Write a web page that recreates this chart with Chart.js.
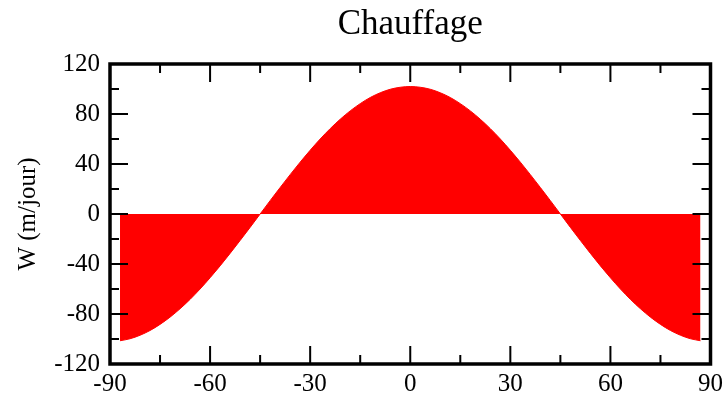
<!DOCTYPE html>
<html>
<head>
<meta charset="utf-8">
<script src="https://cdn.jsdelivr.net/npm/chart.js@4/dist/chart.umd.min.js"></script>
<style>
  html, body { margin: 0; padding: 0; background: #fff; }
  #wrap { width: 728px; height: 396px; }
</style>
</head>
<body>
<div id="wrap"><canvas id="chauffageChart"></canvas></div>
<script>
// latitude (degres) et valeurs
const latitudes = [-87, -84, -81, -78, -75, -72, -69, -66, -63, -60, -57, -54, -51, -48, -45,
                   -42, -39, -36, -33, -30, -27, -24, -21, -18, -15, -12, -9, -6, -3, 0,
                   3, 6, 9, 12, 15, 18, 21, 24, 27, 30, 33, 36, 39, 42, 45,
                   48, 51, 54, 57, 60, 63, 66, 69, 72, 75, 78, 81, 84, 87];
const chauffage = [-101.4, -99.8, -97.0, -93.2, -88.3, -82.5, -75.8, -68.3, -60.0, -51.0, -41.5, -31.5, -21.2, -10.7, 0,
                   10.7, 21.2, 31.5, 41.5, 51.0, 60.0, 68.3, 75.8, 82.5, 88.3, 93.2, 97.0, 99.8, 101.4, 102,
                   101.4, 99.8, 97.0, 93.2, 88.3, 82.5, 75.8, 68.3, 60.0, 51.0, 41.5, 31.5, 21.2, 10.7, 0,
                   -10.7, -21.2, -31.5, -41.5, -51.0, -60.0, -68.3, -75.8, -82.5, -88.3, -93.2, -97.0, -99.8, -101.4];
const xTicks = [-90, -60, -30, 0, 30, 60, 90];
const yTicks = [-120, -80, -40, 0, 40, 80, 120];

const serif = '"Liberation Serif", "Times New Roman", serif';

// cadre noir + graduations vers l'interieur sur les 4 cotes
const framePlugin = {
    id: 'frame',
    afterDraw(chart) {
        const ctx = chart.ctx;
        const a = chart.chartArea;
        const xs = chart.scales.x, ys = chart.scales.y;
        ctx.save();
        ctx.strokeStyle = '#000';
        ctx.lineWidth = 2;
        ctx.beginPath();
        for (let v = xTicks[0]; v <= xTicks[xTicks.length - 1]; v += 15) {
            const px = xs.getPixelForValue(v);
            const len = (v % 30 === 0) ? 18 : 9;
            ctx.moveTo(px, a.bottom); ctx.lineTo(px, a.bottom - len);
            ctx.moveTo(px, a.top); ctx.lineTo(px, a.top + len);
        }
        for (let v = yTicks[0]; v <= yTicks[yTicks.length - 1]; v += 20) {
            const py = ys.getPixelForValue(v);
            const len = (v % 40 === 0) ? 18 : 9;
            ctx.moveTo(a.left, py); ctx.lineTo(a.left + len, py);
            ctx.moveTo(a.right, py); ctx.lineTo(a.right - len, py);
        }
        ctx.stroke();
        ctx.lineWidth = 3.5;
        ctx.strokeRect(a.left, a.top, a.right - a.left, a.bottom - a.top);
        ctx.restore();
    }
};

new Chart(document.getElementById('chauffageChart').getContext('2d'), {
    type: 'line',
    data: {
        datasets: [{
            data: latitudes.map((x, i) => ({ x: x, y: chauffage[i] })),
            borderColor: '#ff0000',
            backgroundColor: '#ff0000',
            borderWidth: 1,
            pointRadius: 0,
            cubicInterpolationMode: 'monotone',
            fill: 'origin'
        }]
    },
    options: {
        responsive: true,
        maintainAspectRatio: false,
        animation: false,
        layout: { padding: { left: 0, right: 17, top: 0, bottom: 0 } },
        plugins: {
            legend: { display: false },
            tooltip: { enabled: false },
            title: {
                display: true,
                text: 'Chauffage',
                fullSize: false,
                color: '#000',
                font: { family: serif, size: 35, weight: 'normal' },
                padding: { top: 4, bottom: 18 }
            }
        },
        scales: {
            x: {
                type: 'linear',
                min: -90,
                max: 90,
                grid: { display: false, drawTicks: false },
                border: { display: false },
                afterBuildTicks: s => { s.ticks = xTicks.map(v => ({ value: v })); },
                afterFit: s => { s.height = 32; },
                ticks: {
                    color: '#000',
                    padding: 5,
                    maxRotation: 0,
                    font: { family: serif, size: 25 }
                }
            },
            y: {
                min: -120,
                max: 120,
                grid: { display: false, drawTicks: false },
                border: { display: false },
                afterBuildTicks: s => { s.ticks = yTicks.map(v => ({ value: v })); },
                afterFit: s => { s.width = 110; },
                title: {
                    display: true,
                    text: 'W (m/jour)',
                    color: '#000',
                    font: { family: serif, size: 25 },
                    padding: { top: 13, bottom: 0 }
                },
                ticks: {
                    color: '#000',
                    padding: 10,
                    font: { family: serif, size: 25 }
                }
            }
        }
    },
    plugins: [framePlugin]
});
</script>
</body>
</html>
